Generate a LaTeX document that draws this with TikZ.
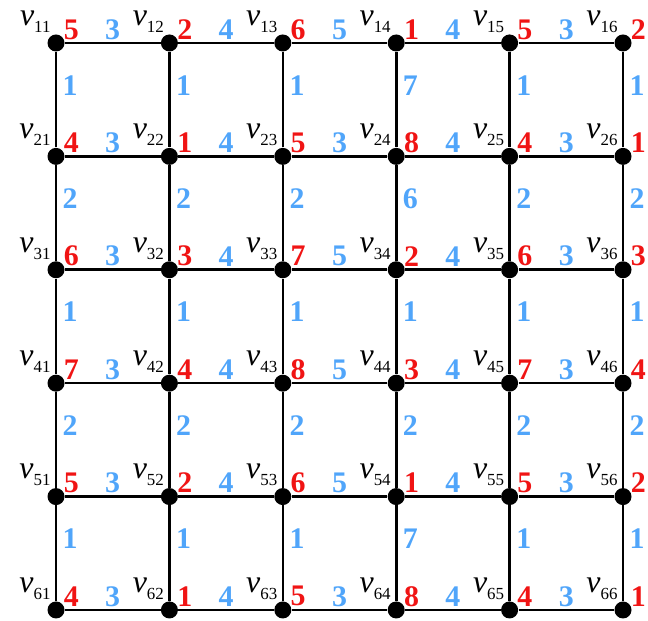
\documentclass[tikz,border=0pt]{standalone}
\usepackage{fontspec}
\setmainfont{Liberation Serif}
\usepackage{xcolor}
\definecolor{numred}{RGB}{240,20,20}
\definecolor{numblue}{RGB}{80,165,250}
\newcommand{\vtxname}[1]{{\fontsize{16}{16}\selectfont\itshape v}{\fontsize{8.5}{8.5}\selectfont\raisebox{-3.5pt}{#1}}}

\begin{document}
\begin{tikzpicture}[
        vertex/.style={circle, fill=black, inner sep=0pt, minimum size=0.3cm},
        edge/.style={line width=1.3pt},
        vname/.style={anchor=south east, inner sep=0pt},
        colour/.style={text=numred, font={\fontsize{15}{15}\selectfont\bfseries}, inner sep=0pt},
        weight/.style={text=numblue, font={\fontsize{15}{15}\selectfont\bfseries}, inner sep=0pt}
    ]
        \useasboundingbox (-0.988,0.758) rectangle (10.441,-10.194);
        % Vertices
        \foreach \i in {1,...,6}
            \foreach \j in {1,...,6}
                \node[vertex] (v\i\j) at ({2*(\j-1)},{-2*(\i-1)}) {};
        % Horizontal edges
        \foreach \i/\row in {1/{3,4,5,4,3},2/{3,4,3,4,3},3/{3,4,5,4,3},4/{3,4,5,4,3},5/{3,4,5,4,3},6/{3,4,3,4,3}}
            \foreach \w [count=\j] in \row {
                \pgfmathtruncatemacro\k{\j+1}
                \draw[edge] (v\i\j) -- node[weight, yshift=0.24cm] (h\i\j) {\w} (v\i\k);
            }
        % Vertical edges
        \foreach \i/\row in {1/{1,1,1,7,1,1},2/{2,2,2,6,2,2},3/{1,1,1,1,1,1},4/{2,2,2,2,2,2},5/{1,1,1,7,1,1}}
            \foreach \w [count=\j] in \row {
                \pgfmathtruncatemacro\k{\i+1}
                \draw[edge] (v\i\j) -- node[weight, pos=0.35, xshift=0.25cm] (u\i\j) {\w} (v\k\j);
            }
        % Vertex names and colours
        \foreach \i/\row in {1/{5,2,6,1,5,2},2/{4,1,5,8,4,1},3/{6,3,7,2,6,3},4/{7,4,8,3,7,4},5/{5,2,6,1,5,2},6/{4,1,5,8,4,1}}
            \foreach \c [count=\j] in \row {
                \node[vname] (n\i\j) at ([shift={(-0.09,0.18)}]v\i\j) {\vtxname{\i\j}};
                \node[colour] (c\i\j) at ([shift={(0.27,0.24)}]v\i\j) {\c};
            }
    \end{tikzpicture}
\end{document}
